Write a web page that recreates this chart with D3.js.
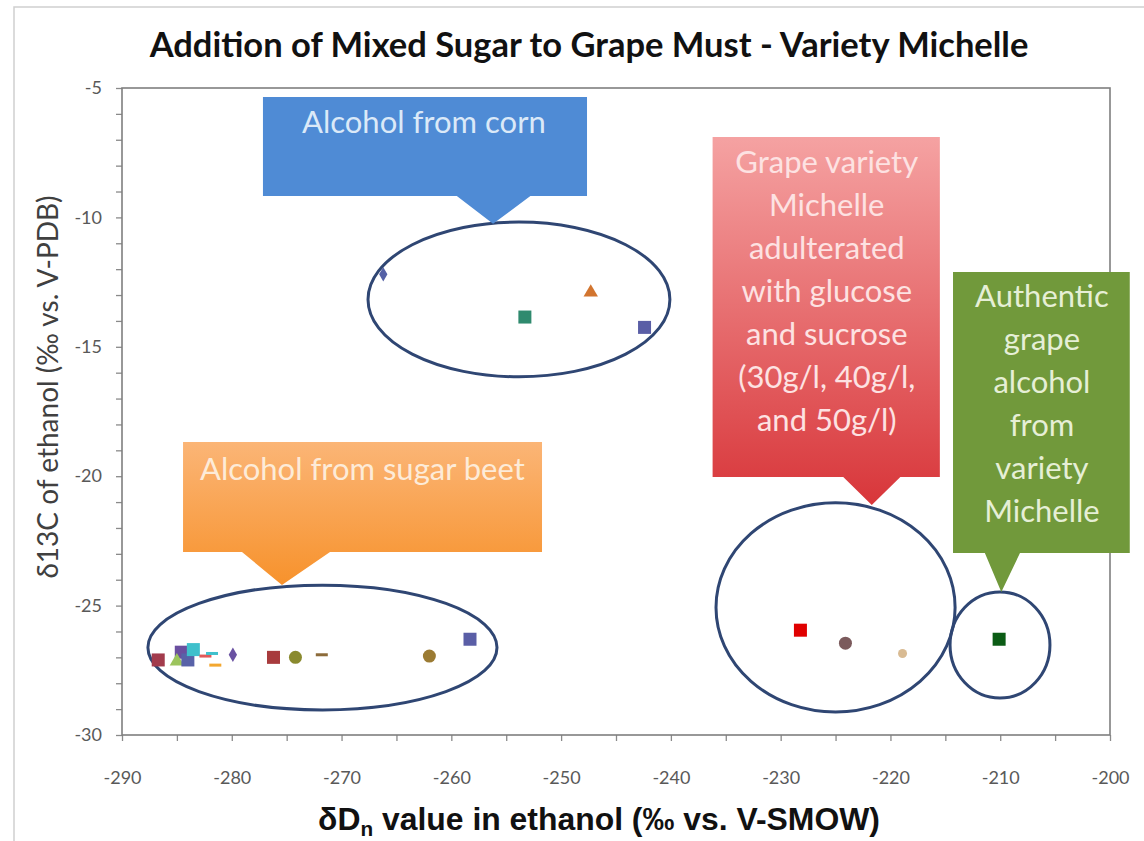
<!DOCTYPE html>
<html>
<head>
<meta charset="utf-8">
<script src="https://cdn.jsdelivr.net/npm/d3@7"></script>
<style>
body { margin: 0; background: #fff; }
svg { display: block; }
</style>
</head>
<body>
<div id="chart"></div>
<script>
// data
var cornX = [-266.2, -247.3, -253.3, -242.4];
var cornY = [-12.2, -12.9, -13.85, -14.25];
var beetX = [-286.7, -284.6, -285.0, -284.0, -283.5, -282.4, -281.8, -281.5, -279.9, -276.2, -274.2, -271.8, -262.0, -258.3];
var beetY = [-27.1, -26.8, -27.15, -27.1, -26.7, -26.95, -26.85, -27.3, -26.9, -27.0, -27.0, -26.9, -26.95, -26.3];
var mixX = [-228.2, -224.1, -218.9];
var mixY = [-25.95, -26.45, -26.85];
var authX = [-210.1];
var authY = [-26.3];

var xTicks = [-290, -280, -270, -260, -250, -240, -230, -220, -210, -200];
var yTicks = [-30, -25, -20, -15, -10, -5];

// marker styles (shape, colour) per point
var cornShape = ["diamond", "triangle", "square", "square"];
var cornColor = ["#5561a6", "#d2752f", "#2f8a6e", "#5a5ea6"];
var beetShape = ["square", "square", "triangle", "square", "square", "dash", "dash", "dash", "diamond", "square", "circle", "dash", "circle", "square"];
var beetColor = ["#a23b4c", "#6a4f9f", "#9cc45d", "#5862a8", "#3fc0cc", "#e05a5a", "#3fc0cc", "#f3a72f", "#6a52a2", "#a83b3d", "#8a8a2e", "#8c6b3a", "#9b7b33", "#5a5ea6"];
var mixShape = ["square", "circle", "circle"];
var mixColor = ["#e00000", "#7b5a5c", "#d9bb93"];
var authShape = ["square"];
var authColor = ["#0b5c15"];

var W = 1144, H = 841;
var margin = {top: 88, right: 34, bottom: 106, left: 122};
var width = W - margin.left - margin.right,
    height = H - margin.top - margin.bottom;

var x = d3.scaleLinear().domain([-290, -200]).range([0, width]);
var y = d3.scaleLinear().domain([-30, -5]).range([height, 0]);

var svg = d3.select("#chart").append("svg")
    .attr("width", W)
    .attr("height", H);

var defs = svg.append("defs");
var g1 = defs.append("linearGradient").attr("id", "gOrange").attr("x1", 0).attr("y1", 0).attr("x2", 0).attr("y2", 1);
g1.append("stop").attr("offset", "0%").attr("stop-color", "#fbb576");
g1.append("stop").attr("offset", "100%").attr("stop-color", "#f7922c");
var g2 = defs.append("linearGradient").attr("id", "gRed").attr("x1", 0).attr("y1", 0).attr("x2", 0).attr("y2", 1);
g2.append("stop").attr("offset", "0%").attr("stop-color", "#f5a2a2");
g2.append("stop").attr("offset", "100%").attr("stop-color", "#d8363a");

// outer chart frame
svg.append("rect")
    .attr("x", 14).attr("y", 7)
    .attr("width", W + 20).attr("height", H + 20)
    .attr("fill", "none")
    .attr("stroke", "#cfcfcf")
    .attr("stroke-width", 1.5);

// scale a text so that it spans the wanted width
function fitWidth(sel, size, want){
    var w = sel.node().getBBox().width;
    if (w > 0) sel.style("font-size", (size * want / w).toFixed(2) + "px");
}

var title = svg.append("text")
    .attr("x", 589).attr("y", 57)
    .attr("text-anchor", "middle")
    .style("font-family", "Lato")
    .style("font-weight", "bold")
    .style("font-size", "30px")
    .style("fill", "#111")
    .text("Addition of Mixed Sugar to Grape Must - Variety Michelle");
fitWidth(title, 30, 880);

var plot = svg.append("g")
    .attr("transform", "translate(" + margin.left + "," + margin.top + ")");

// axes
var yAxis = d3.axisLeft(y)
    .tickValues(d3.range(-30, -4, 1))
    .tickSize(6).tickPadding(14)
    .tickFormat(function(d){ return yTicks.indexOf(d) >= 0 ? String(d) : ""; });
var xAxis = d3.axisBottom(x)
    .tickValues(d3.range(-290, -199, 5))
    .tickSize(6).tickPadding(30)
    .tickFormat(function(d){ return xTicks.indexOf(d) >= 0 ? String(d) : ""; });

var ya = plot.append("g").call(yAxis);
var xa = plot.append("g").attr("transform", "translate(0," + height + ")").call(xAxis);
[ya, xa].forEach(function(a){
    a.select(".domain").remove();
    a.selectAll("line").attr("stroke", "#8a8a8a").attr("stroke-width", 1.3);
    a.selectAll("text")
        .style("font-family", "Lato")
        .style("font-size", "18px")
        .style("fill", "#595959");
});

plot.append("rect")
    .attr("width", width).attr("height", height)
    .attr("fill", "none")
    .attr("stroke", "#7f7f7f")
    .attr("stroke-width", 1.6);

// ellipses round the groups (data units)
var ellipses = [
    {cx: -253.84, cy: -13.17, rx: 13.75, ry: 2.99},
    {cx: -271.74, cy: -26.62, rx: 15.9, ry: 2.41},
    {cx: -225.0, cy: -25.07, rx: 10.89, ry: 4.04},
    {cx: -210.02, cy: -26.52, rx: 4.55, ry: 2.05}
];
plot.selectAll("ellipse.grp")
    .data(ellipses)
    .enter()
    .append("ellipse")
    .attr("class", "grp")
    .attr("cx", function(d){ return x(d.cx); })
    .attr("cy", function(d){ return y(d.cy); })
    .attr("rx", function(d){ return x(d.cx + d.rx) - x(d.cx); })
    .attr("ry", function(d){ return y(d.cy - d.ry) - y(d.cy); })
    .attr("fill", "none")
    .attr("stroke", "#2f4673")
    .attr("stroke-width", 3);

// points
function drawPoints(xs, ys, shapes, colors){
    var pts = xs.map(function(v, i){ return {x: v, y: ys[i], shape: shapes[i], color: colors[i]}; });
    pts.forEach(function(p){
        var px = x(p.x), py = y(p.y);
        if (p.shape === "square") {
            plot.append("rect").attr("x", px - 6.5).attr("y", py - 6.5).attr("width", 13).attr("height", 13).attr("fill", p.color);
        } else if (p.shape === "circle") {
            plot.append("circle").attr("cx", px).attr("cy", py).attr("r", p.color === "#d9bb93" ? 4.5 : 6.5).attr("fill", p.color);
        } else if (p.shape === "diamond") {
            plot.append("path").attr("d", d3.symbol().type(d3.symbolDiamond).size(60)).attr("transform", "translate(" + px + "," + py + ")").attr("fill", p.color);
        } else if (p.shape === "triangle") {
            plot.append("path").attr("d", d3.symbol().type(d3.symbolTriangle).size(90)).attr("transform", "translate(" + px + "," + py + ")").attr("fill", p.color);
        } else {
            plot.append("rect").attr("x", px - 6).attr("y", py - 1.5).attr("width", 12).attr("height", 3).attr("fill", p.color);
        }
    });
}
drawPoints(cornX, cornY, cornShape, cornColor);
drawPoints(beetX, beetY, beetShape, beetColor);
drawPoints(mixX, mixY, mixShape, mixColor);
drawPoints(authX, authY, authShape, authColor);

// callouts (data units)
var callouts = [
    {x0: -277.16, x1: -247.64, y0: -5.35, y1: -9.17, pl: -259.5, pr: -252.8, tx: -256.2, ty: -10.25, fill: "#4f8bd5", tc: "#dbe9f8",
     cx: -262.5, by: -6.74, lines: ["Alcohol from corn"]},
    {x0: -284.44, x1: -251.74, y0: -18.68, y1: -22.93, pl: -279.07, pr: -271.05, tx: -275.43, ty: -24.2, fill: "url(#gOrange)", tc: "#fdebd8",
     cx: -268.1, by: -20.15, lines: ["Alcohol from sugar beet"]},
    {x0: -236.2, x1: -215.5, y0: -6.89, y1: -20.03, pl: -224.3, pr: -219.1, tx: -221.7, ty: -21.11, fill: "url(#gRed)", tc: "#fde2e2",
     cx: -225.8, by: -8.28, lines: ["Grape variety", "Michelle", "adulterated", "with glucose", "and sucrose", "(30g/l, 40g/l,", "and 50g/l)"]},
    {x0: -214.3, x1: -198.2, y0: -12.11, y1: -22.97, pl: -211.4, pr: -208.2, tx: -209.9, ty: -24.47, fill: "#71993b", tc: "#e6efd6",
     cx: -206.2, by: -13.46, lines: ["Authentic", "grape", "alcohol", "from", "variety", "Michelle"]}
];
callouts.forEach(function(c){
    var p = d3.path();
    p.moveTo(x(c.x0), y(c.y0));
    p.lineTo(x(c.x1), y(c.y0));
    p.lineTo(x(c.x1), y(c.y1));
    p.lineTo(x(c.pr), y(c.y1));
    p.lineTo(x(c.tx), y(c.ty));
    p.lineTo(x(c.pl), y(c.y1));
    p.lineTo(x(c.x0), y(c.y1));
    p.closePath();
    plot.append("path").attr("d", p.toString()).attr("fill", c.fill);
    var t = plot.append("text")
        .attr("text-anchor", "middle")
        .style("font-family", "Lato")
        .style("font-size", "31px")
        .style("fill", c.tc);
    c.lines.forEach(function(line, i){
        t.append("tspan")
            .attr("x", x(c.cx))
            .attr("y", y(c.by) + i * 43)
            .text(line);
    });
});

// axis titles
var xt = svg.append("text")
    .attr("x", 599).attr("y", 830)
    .attr("text-anchor", "middle")
    .style("font-family", "'Liberation Sans Narrow', 'Liberation Sans'")
    .style("font-weight", "bold")
    .style("font-size", "28px")
    .style("fill", "#111");
xt.append("tspan").text("δD");
xt.append("tspan").attr("dy", 6).style("font-size", "0.65em").text("n");
xt.append("tspan").attr("dy", -6).text(" value in ethanol (‰ vs. V-SMOW)");
fitWidth(xt, 28, 562);

svg.append("text")
    .attr("transform", "translate(58,387) rotate(-90)")
    .attr("text-anchor", "middle")
    .style("font-family", "Lato")
    .style("font-size", "28px")
    .style("fill", "#404040")
    .text("δ13C  of ethanol (‰ vs. V-PDB)");
</script>
</body>
</html>
